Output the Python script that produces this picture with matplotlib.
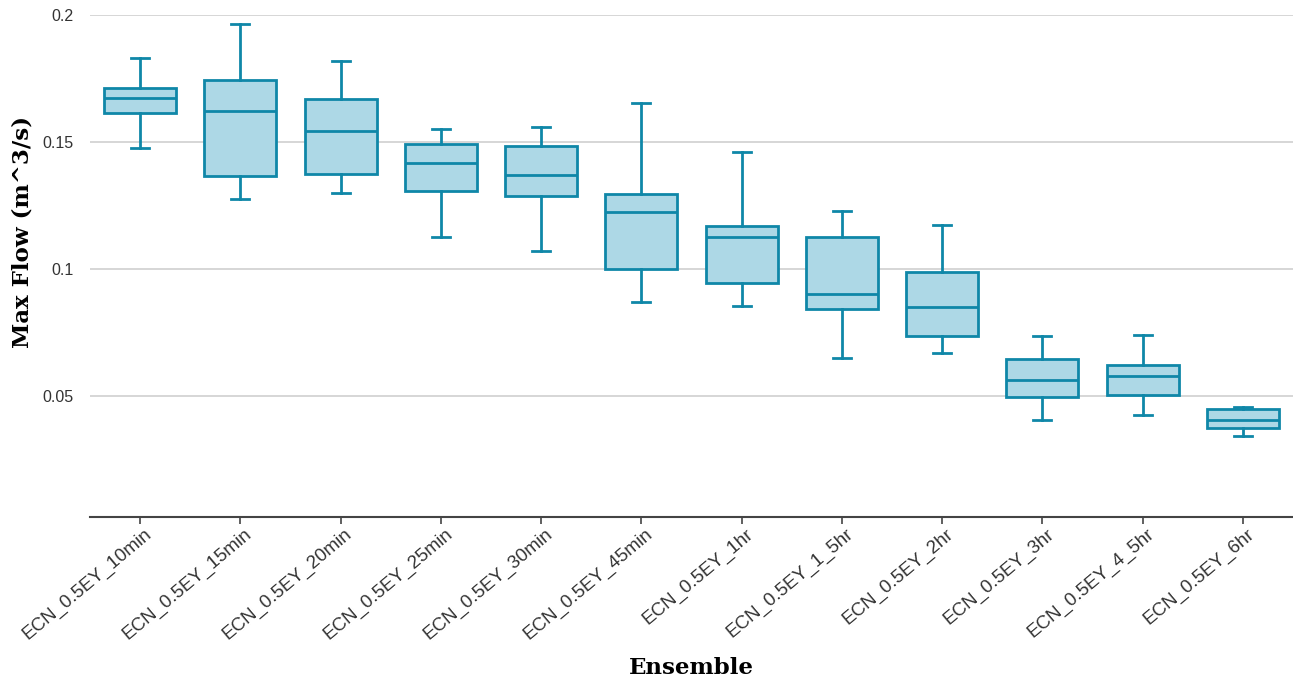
import matplotlib
matplotlib.use("Agg")
import matplotlib.pyplot as plt
from matplotlib.transforms import ScaledTranslation

# Box statistics (Max Flow, m^3/s)
ensembles = ["ECN_0.5EY_10min", "ECN_0.5EY_15min", "ECN_0.5EY_20min", "ECN_0.5EY_25min",
             "ECN_0.5EY_30min", "ECN_0.5EY_45min", "ECN_0.5EY_1hr", "ECN_0.5EY_1_5hr",
             "ECN_0.5EY_2hr", "ECN_0.5EY_3hr", "ECN_0.5EY_4_5hr", "ECN_0.5EY_6hr"]
whisker_low = [0.1476, 0.1276, 0.1299, 0.1126, 0.1071, 0.0870, 0.0854, 0.0650, 0.0669, 0.0406, 0.0425, 0.0343]
q1 = [0.1614, 0.1366, 0.1374, 0.1307, 0.1287, 0.1000, 0.0945, 0.0843, 0.0736, 0.0496, 0.0504, 0.0374]
median = [0.1673, 0.1622, 0.1543, 0.1417, 0.1370, 0.1224, 0.1126, 0.0902, 0.0850, 0.0563, 0.0579, 0.0406]
q3 = [0.1713, 0.1744, 0.1669, 0.1492, 0.1484, 0.1295, 0.1169, 0.1126, 0.0988, 0.0646, 0.0622, 0.0448]
whisker_high = [0.1831, 0.1965, 0.1819, 0.1551, 0.1559, 0.1654, 0.1461, 0.1228, 0.1173, 0.0736, 0.0740, 0.0459]

edge = "#0f87a8"
fill = "#add8e6"

stats = []
for i, name in enumerate(ensembles):
    stats.append({"label": name, "whislo": whisker_low[i], "q1": q1[i], "med": median[i],
                  "q3": q3[i], "whishi": whisker_high[i], "fliers": []})

fig = plt.figure(figsize=(12.93, 6.83), dpi=100)
ax = fig.add_axes([0.0696, 0.243, 0.9304, 0.735])

lw = 2.0
ax.bxp(stats, positions=range(len(ensembles)), widths=0.72, capwidths=0.18,
       patch_artist=True, showfliers=False,
       boxprops=dict(facecolor=fill, edgecolor=edge, linewidth=lw),
       medianprops=dict(color=edge, linewidth=lw),
       whiskerprops=dict(color=edge, linewidth=lw),
       capprops=dict(color=edge, linewidth=lw))

ax.set_xlim(-0.5, len(ensembles) - 0.5)
ax.set_ylim(0.0024, 0.2)
ax.set_yticks([0.05, 0.1, 0.15, 0.2])
ax.set_yticklabels(["0.05", "0.1", "0.15", "0.2"])
ax.grid(axis="y", color="#d0d0d0", linewidth=1.2)
ax.set_axisbelow(True)

for s in ["top", "right", "left"]:
    ax.spines[s].set_visible(False)
ax.spines["bottom"].set_color("#444444")
ax.spines["bottom"].set_linewidth(1.5)

ax.tick_params(axis="y", length=0, labelsize=11.5, labelcolor="#333333", pad=12)
ax.tick_params(axis="x", length=5, width=1.2, color="#444444", labelsize=13.5, labelcolor="#333333", pad=1)
ax.set_xticks(range(len(ensembles)))
ax.set_xticklabels(ensembles, rotation=40, ha="right", rotation_mode="anchor",
                   family=["Liberation Sans", "DejaVu Sans"])
shift = ScaledTranslation(4 / 100, 0, fig.dpi_scale_trans)
for lab in ax.get_xticklabels():
    lab.set_transform(lab.get_transform() + shift)
for lab in ax.get_yticklabels():
    lab.set_family(["Liberation Sans", "DejaVu Sans"])

ax.set_ylabel("Max Flow (m^3/s)", family="DejaVu Serif", fontweight="bold", fontsize=16.5)
ax.yaxis.set_label_coords(-0.047, 0.568)
ax.set_xlabel("Ensemble", family="DejaVu Serif", fontweight="bold", fontsize=16.5, labelpad=10)

fig.savefig("out.png", dpi=100)
